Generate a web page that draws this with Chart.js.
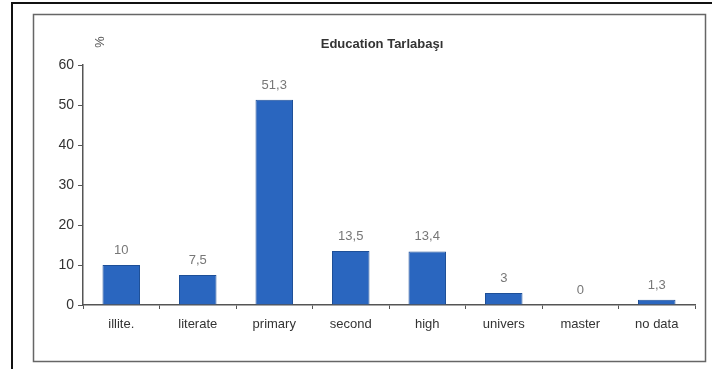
<!DOCTYPE html>
<html>
<head>
<meta charset="utf-8">
<script src="https://cdn.jsdelivr.net/npm/chart.js@4"></script>
<style>
  html, body { margin: 0; padding: 0; background: #fff; }
  #wrap { position: relative; width: 712px; height: 369px; }
</style>
</head>
<body>
<div id="wrap"><canvas id="eduChart" width="712" height="369"></canvas></div>
<script>
// data
const categories = ['illite.', 'literate', 'primary', 'second', 'high', 'univers', 'master', 'no data'];
const percentValues = [10, 7.5, 51.3, 13.5, 13.4, 3, 0, 1.3];
const yTicks = [0, 10, 20, 30, 40, 50, 60];

// frames, title and % sign
const decorPlugin = {
    id: 'decor',
    beforeDraw(chart) {
        const ctx = chart.ctx;
        ctx.save();
        ctx.fillStyle = '#fff';
        ctx.fillRect(0, 0, chart.width, chart.height);
        // outer black frame
        ctx.strokeStyle = '#111';
        ctx.lineWidth = 2;
        ctx.beginPath();
        ctx.moveTo(12, 369);
        ctx.lineTo(12, 3);
        ctx.lineTo(712, 3);
        ctx.stroke();
        // inner grey box
        ctx.strokeStyle = '#666';
        ctx.lineWidth = 1.5;
        ctx.strokeRect(33.5, 14.5, 672, 347);
        ctx.restore();
    },
    afterDraw(chart) {
        const ctx = chart.ctx;
        ctx.save();
        ctx.fillStyle = '#333';
        ctx.font = 'bold 13px "Liberation Sans", Arial, sans-serif';
        ctx.textAlign = 'center';
        ctx.textBaseline = 'middle';
        ctx.fillText('Education Tarlabaşı', 382, 44);
        // rotated % label
        ctx.font = '13px "Liberation Sans", Arial, sans-serif';
        ctx.fillStyle = '#555';
        ctx.translate(99, 42);
        ctx.rotate(Math.PI / 2);
        ctx.fillText('%', 0, 0);
        ctx.restore();
    }
};

// value labels above the bars
const valueLabels = {
    id: 'valueLabels',
    afterDatasetsDraw(chart) {
        const ctx = chart.ctx;
        const meta = chart.getDatasetMeta(0);
        ctx.save();
        ctx.fillStyle = '#777';
        ctx.font = '13px "Liberation Sans", Arial, sans-serif';
        ctx.textAlign = 'center';
        ctx.textBaseline = 'bottom';
        meta.data.forEach((bar, i) => {
            const txt = String(percentValues[i]).replace('.', ',');
            ctx.fillText(txt, bar.x, bar.y - 8);
        });
        ctx.restore();
    }
};

new Chart(document.getElementById('eduChart'), {
    type: 'bar',
    data: {
        labels: categories,
        datasets: [{
            data: percentValues,
            backgroundColor: '#2a66bf',
            borderColor: '#1d4f98',
            borderWidth: 1,
            categoryPercentage: 1,
            barPercentage: 0.49
        }]
    },
    options: {
        responsive: false,
        animation: false,
        devicePixelRatio: 1,
        layout: { padding: { left: 0, top: 65, right: 17, bottom: 0 } },
        plugins: {
            legend: { display: false },
            title: { display: false },
            tooltip: { enabled: false }
        },
        scales: {
            x: {
                afterFit(scale) { scale.height = 64; },
                grid: {
                    offset: true,
                    drawOnChartArea: false,
                    drawTicks: true,
                    tickLength: 4,
                    color: '#555'
                },
                border: { display: true, color: '#555', width: 1.5 },
                ticks: {
                    color: '#333',
                    padding: 8,
                    font: { size: 13, family: '"Liberation Sans", Arial, sans-serif' }
                }
            },
            y: {
                min: 0,
                max: 60,
                afterFit(scale) { scale.width = 83; },
                afterBuildTicks(scale) { scale.ticks = yTicks.map(v => ({ value: v })); },
                grid: {
                    drawOnChartArea: false,
                    drawTicks: true,
                    tickLength: 5,
                    color: '#555'
                },
                border: { display: true, color: '#555', width: 1.5 },
                ticks: {
                    color: '#333',
                    padding: 4,
                    font: { size: 14, family: '"Liberation Sans", Arial, sans-serif' }
                }
            }
        }
    },
    plugins: [decorPlugin, valueLabels]
});
</script>
</body>
</html>
